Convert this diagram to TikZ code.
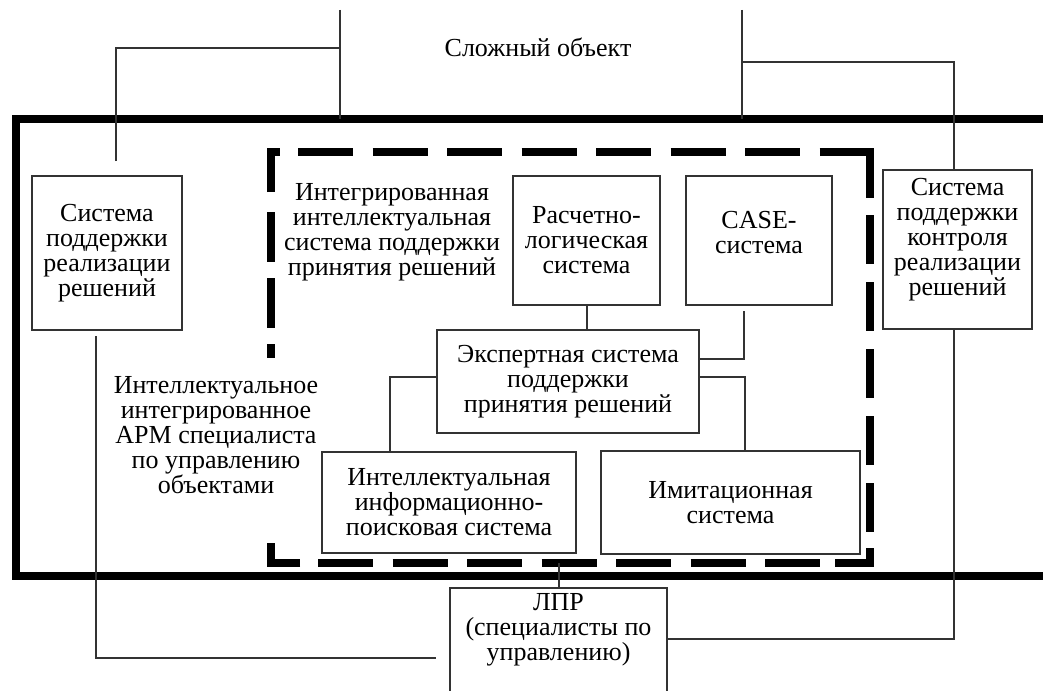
\documentclass[tikz,border=0pt]{standalone}
\usepackage{fontspec}
\setmainfont{Liberation Serif}
\newcommand\diafont{\fontsize{26}{25}\selectfont}
\begin{document}
\begin{tikzpicture}[x=1pt,y=-1pt,
  box/.style={draw=black!80, line width=2pt, inner sep=0pt, align=center, font=\diafont},
  lbl/.style={inner sep=0pt, align=center, font=\diafont},
  conn/.style={draw=black!80, line width=2pt},
  frame/.style={draw=black, line width=8pt, line join=miter},
  dfr/.style={draw=black, line width=8pt, line join=miter}]
\useasboundingbox (0,0) rectangle (1043,690);
\clip (0,0) rectangle (1043,690);
\fill[white] (0,0) rectangle (1043,690);

% outer thick frame (open to the right)
\draw[frame] (1060,119) -- (16,119) -- (16,576) -- (1060,576);

% dashed frame
\draw[dfr] (271,192) -- (271,152) -- (280,152);
\draw[dfr, dash pattern=on 55pt off 19.5pt] (298,152) -- (819.5,152);
\draw[dfr] (819.5,152) -- (870,152) -- (870,198);
\draw[dfr, dash pattern=on 49pt off 18pt] (870,215) -- (870,548);
\draw[dfr] (870,548) -- (870,563) -- (835,563);
\draw[dfr, dash pattern=on 55pt off 19.5pt] (318,563) -- (820,563);
\draw[dfr] (300,563) -- (271,563) -- (271,543);
\draw[dfr, dash pattern=on 50pt off 16pt] (271,212) -- (271,358);

% boxes
\node[box, minimum width=150pt, minimum height=154pt] (A) at (107,253) {Система\\поддержки\\реализации\\решений};
\node[box, minimum width=147pt, minimum height=129pt] (B) at (586.5,240.5) {Расчетно-\\логическая\\система};
\node[box, minimum width=146pt, minimum height=129pt] (C) at (759,240.5) {};
\node[lbl, anchor=base] (Ct) at (759,253) {CASE-\\система};
\node[box, minimum width=149pt, minimum height=159pt] (D) at (957.5,249.5) {};
\node[lbl, anchor=base] (Dt) at (957.5,295) {Система\\поддержки\\контроля\\реализации\\решений};
\node[box, minimum width=262pt, minimum height=103pt] (E) at (568,381.5) {Экспертная система\\поддержки\\принятия решений};
\node[box, minimum width=254pt, minimum height=101pt] (F) at (449,502.5) {Интеллектуальная\\информационно-\\поисковая система};
\node[box, minimum width=259pt, minimum height=103pt] (G) at (730.5,502.5) {Имитационная\\система};
\node[box, minimum width=217pt, minimum height=140pt, anchor=north] (H) at (558.5,587) {};
\node[lbl, anchor=base] (Ht) at (558.5,660) {ЛПР\\(специалисты по\\управлению)};

% free labels
\node[lbl, anchor=base] (obj) at (538,57) {Сложный объект};
\node[lbl, anchor=base] (iis) at (392,275) {Интегрированная\\интеллектуальная\\система поддержки\\принятия решений};
\node[lbl, anchor=base] (arm) at (216,493) {Интеллектуальное\\интегрированное\\АРМ специалиста\\по управлению\\объектами};

% coordinates
\coordinate (tL) at (340,10);
\coordinate (tLb) at (340,119);
\coordinate (jL) at (340,48);
\coordinate (tR) at (742,10);
\coordinate (tRb) at (742,119);
\coordinate (jR) at (742,62);
\coordinate (db) at (559,563);

% connectors
\draw[conn] (tL) -- (tLb);
\draw[conn, shorten <=14pt] ([xshift=9pt]A.north) |- (jL);
\draw[conn] (tR) -- (tRb);
\draw[conn] ([xshift=-3.5pt]D.north) |- (jR);
\draw[conn, shorten <=5pt, shorten >=13pt] ([xshift=-11pt]A.south) |- (H.west);
\draw[conn] ([xshift=-3.5pt]D.south) |- ([yshift=19pt]H.east);
\draw[conn] (B.south) -- (B.south |- E.north);
\draw[conn, shorten <=5pt] ([xshift=-15pt]C.south) |- ([yshift=22.5pt]E.east);
\draw[conn] ([yshift=4.5pt]E.west) -| ([xshift=-59pt]F.north);
\draw[conn] ([yshift=4.5pt]E.east) -| ([xshift=14.5pt]G.north);
\draw[conn] (db) -- (db |- H.north);
\end{tikzpicture}
\end{document}
